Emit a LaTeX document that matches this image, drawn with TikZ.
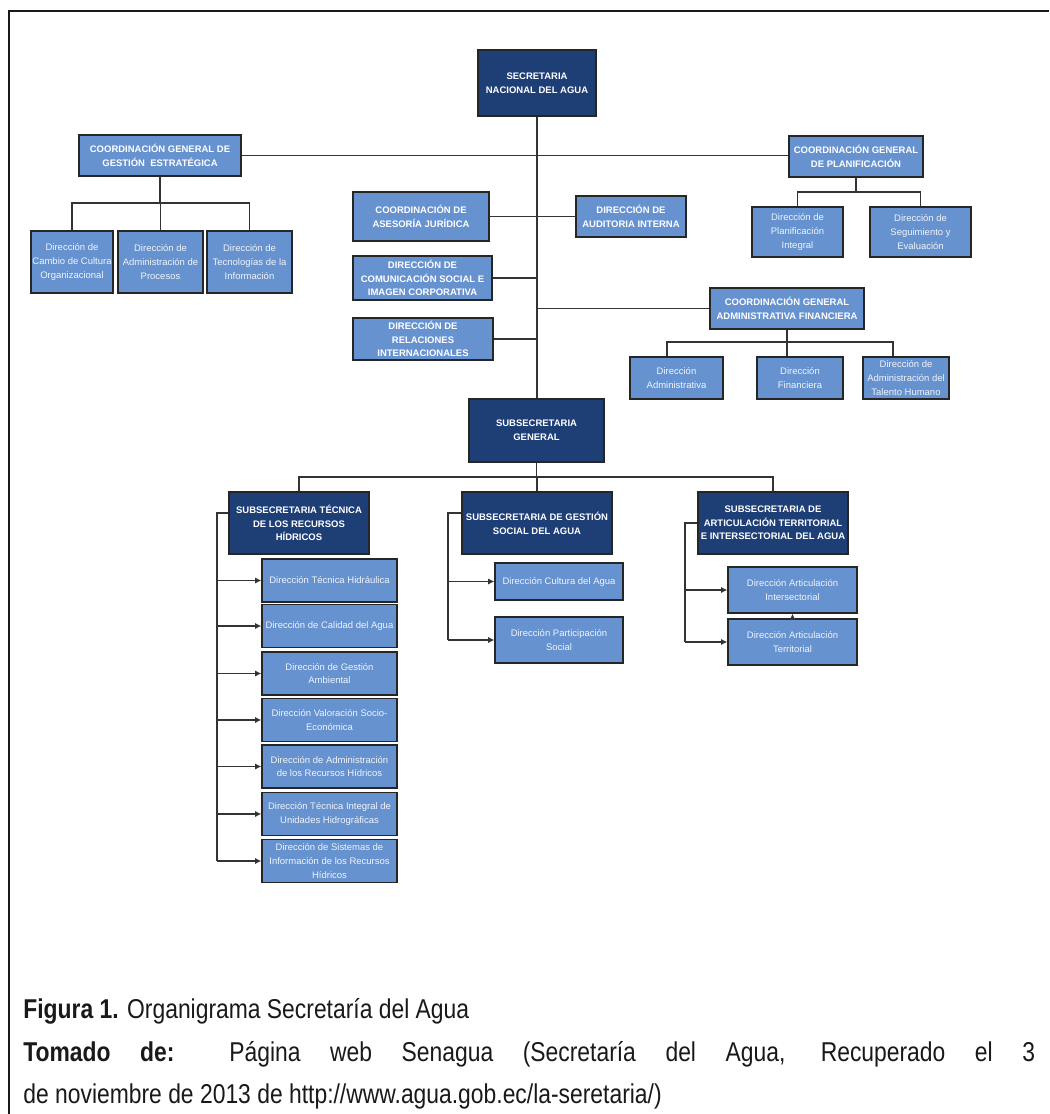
\documentclass[tikz,border=0pt]{standalone}
\usepackage{fontspec}
\setmainfont{Liberation Sans}
\newfontfamily\captfont[FakeStretch=0.84]{Liberation Sans}
\usepackage{tikz}
\usetikzlibrary{arrows.meta}
\definecolor{navy}{RGB}{30,62,118}
\definecolor{steel}{RGB}{102,146,207}

\begin{document}
\begin{tikzpicture}[x=0.02cm,y=-0.02cm,
  dark/.style={draw=black!85, line width=0.75pt, fill=navy, text=white, inner sep=0pt, align=center, font=\fontsize{5.4}{7.8}\selectfont\bfseries},
  lite/.style={dark, fill=steel},
  dir/.style={lite, font=\fontsize{5.4}{7.8}\selectfont, text=white!90!steel},
  wire/.style={line width=0.8pt, black!80},
  arr/.style={wire, -{Latex[length=3.5pt,width=3.5pt]}},
  capt/.style={anchor=base west, inner sep=0pt, text=black!90, font=\captfont\fontsize{15.5}{18}\selectfont}]
\useasboundingbox (0,0) rectangle (1049,1114);
\draw[line width=1.1pt, black!90] (1049,11) -- (9,11) -- (9,1114);

\node[dark, minimum width=2.36cm, minimum height=1.32cm] (sec) at (537,83) {SECRETARIA\\NACIONAL DEL AGUA};

\node[lite, minimum width=3.24cm, minimum height=0.82cm] (cgge) at (160,155.5) {COORDINACIÓN GENERAL DE\\GESTIÓN~ ESTRATÉGICA};
\node[dir, minimum width=1.64cm, minimum height=1.24cm] (dcco) at (72,262) {Dirección de\\Cambio de Cultura\\Organizacional};
\node[dir, minimum width=1.70cm, minimum height=1.24cm] (dap) at (160.5,262) {Dirección de\\Administración de\\Procesos};
\node[dir, minimum width=1.70cm, minimum height=1.24cm] (dti) at (249.5,262) {Dirección de\\Tecnologías de la\\Información};

\node[lite, minimum width=2.72cm, minimum height=0.98cm] (caj) at (421,216.5) {COORDINACIÓN DE\\ASESORÍA JURÍDICA};
\node[lite, minimum width=2.20cm, minimum height=0.82cm] (dai) at (631,216.5) {DIRECCIÓN DE\\AUDITORIA INTERNA};
\node[lite, minimum width=2.78cm, minimum height=0.88cm] (dcs) at (422.5,278) {DIRECCIÓN DE\\COMUNICACIÓN SOCIAL E\\IMAGEN CORPORATIVA};
\node[lite, minimum width=2.80cm, minimum height=0.84cm] (dri) at (423,339) {DIRECCIÓN DE\\RELACIONES\\INTERNACIONALES};

\node[lite, minimum width=2.68cm, minimum height=0.82cm] (cgp) at (856,156.5) {COORDINACIÓN GENERAL\\DE PLANIFICACIÓN};
\node[dir, minimum width=1.82cm, minimum height=1.00cm] (dpi) at (797.5,232) {Dirección de\\Planificación\\Integral};
\node[dir, minimum width=2.02cm, minimum height=1.00cm] (dse) at (920.5,232) {Dirección de\\Seguimiento y\\Evaluación};

\node[lite, minimum width=3.08cm, minimum height=0.82cm] (cgaf) at (787,308.5) {COORDINACIÓN GENERAL\\ADMINISTRATIVA FINANCIERA};
\node[dir, minimum width=1.86cm, minimum height=0.84cm] (dad) at (676.5,378) {Dirección\\Administrativa};
\node[dir, minimum width=1.72cm, minimum height=0.84cm] (dfi) at (800,378) {Dirección\\Financiera};
\node[dir, minimum width=1.72cm, minimum height=0.84cm] (dth) at (906,378) {Dirección de\\Administración del\\Talento Humano};

\node[dark, minimum width=2.70cm, minimum height=1.26cm] (sg) at (536.5,430.5) {SUBSECRETARIA\\GENERAL};
\node[dark, minimum width=2.80cm, minimum height=1.24cm] (stec) at (299,523) {SUBSECRETARIA TÉCNICA\\DE LOS RECURSOS\\HÍDRICOS};
\node[dark, minimum width=3.00cm, minimum height=1.24cm] (sgs) at (537,523) {SUBSECRETARIA DE GESTIÓN\\SOCIAL DEL AGUA};
\node[dark, minimum width=3.00cm, minimum height=1.24cm] (sat) at (773,523) {SUBSECRETARIA DE\\ARTICULACIÓN TERRITORIAL\\E INTERSECTORIAL DEL AGUA};

\node[dir, minimum width=2.70cm, minimum height=0.86cm] (dt1) at (329.5,580.5) {Dirección Técnica Hidráulica};
\node[dir, minimum width=2.70cm, minimum height=0.86cm] (dt2) at (329.5,626) {Dirección de Calidad del Agua};
\node[dir, minimum width=2.70cm, minimum height=0.86cm] (dt3) at (329.5,673.5) {Dirección de Gestión\\Ambiental};
\node[dir, minimum width=2.70cm, minimum height=0.86cm] (dt4) at (329.5,720) {Dirección Valoración Socio-\\Económica};
\node[dir, minimum width=2.70cm, minimum height=0.86cm] (dt5) at (329.5,766.5) {Dirección de Administración\\de los Recursos Hídricos};
\node[dir, minimum width=2.70cm, minimum height=0.86cm] (dt6) at (329.5,814) {Dirección Técnica Integral de\\Unidades Hidrográficas};
\node[dir, minimum width=2.70cm, minimum height=0.86cm] (dt7) at (329.5,861) {Dirección de Sistemas de\\Información de los Recursos\\Hídricos};

\node[dir, minimum width=2.56cm, minimum height=0.74cm] (dca) at (559,581.5) {Dirección Cultura del Agua};
\node[dir, minimum width=2.56cm, minimum height=0.92cm] (dps) at (559,640) {Dirección Participación\\Social};

\node[dir, minimum width=2.58cm, minimum height=0.92cm] (dain) at (792.5,590) {Dirección Articulación\\Intersectorial};
\node[dir, minimum width=2.58cm, minimum height=0.92cm] (dat) at (792.5,642) {Dirección Articulación\\Territorial};

% tronco
\draw[wire] (sec.south) -- (sec.south |- sg.north);
\draw[wire] (cgge.east) -- (cgge.east -| cgp.west);
\draw[wire] (caj.east) -- (dai.west);
\draw[wire] (dcs.east) -- (dcs.east -| sec.south);
\draw[wire] (dri.east) -- (dri.east -| sec.south);
\draw[wire] (cgaf.west) -- (cgaf.west -| sec.south);

\coordinate (ggbar) at (160,203);
\draw[wire] (cgge.south) -- (cgge.south |- ggbar);
\draw[wire] (dcco.north) -- (dcco.north |- ggbar) -- (dti.north |- ggbar) -- (dti.north);
\draw[wire] (dap.north) -- (dap.north |- ggbar);

\coordinate (pbar) at (857,192);
\draw[wire] (cgp.south) -- (cgp.south |- pbar);
\draw[wire] (dpi.north) -- (dpi.north |- pbar) -- (dse.north |- pbar) -- (dse.north);

\coordinate (afbar) at (787,342);
\draw[wire] (cgaf.south) -- (cgaf.south |- dfi.north);
\draw[wire] ([xshift=-0.19cm]dad.north) -- ([xshift=-0.19cm]dad.north |- afbar) -- ([xshift=-0.26cm]dth.north |- afbar) -- ([xshift=-0.26cm]dth.north);

\coordinate (sgbar) at (537,477);
\draw[wire] (sg.south) -- (sg.south |- sgbar);
\draw[wire] (stec.north) -- (stec.north |- sgbar) -- (sat.north |- sgbar) -- (sat.north);
\draw[wire] (sgs.north) -- (sgs.north |- sgbar);

\coordinate (tecrail) at (217,513);
\draw[wire] (stec.west |- tecrail) -- (tecrail) -- (tecrail |- dt7);
\foreach \n in {dt1,dt2,dt3,dt4,dt5,dt6,dt7}
  \draw[arr] (tecrail |- \n) -- (\n.west);

\coordinate (gsrail) at (448,513);
\draw[wire] (sgs.west |- gsrail) -- (gsrail) -- (gsrail |- dps);
\foreach \n in {dca,dps}
  \draw[arr] (gsrail |- \n) -- (\n.west);

\coordinate (atrail) at (685,523);
\draw[wire] (sat.west) -- (atrail) -- (atrail |- dat);
\foreach \n in {dain,dat}
  \draw[arr] (atrail |- \n) -- (\n.west);
\draw[arr] (dat.north) -- (dain.south);

\node[capt] (fig) at (23,1018) {\textbf{Figura 1.} Organigrama Secretaría del Agua};
\node[capt] (src) at (23,1061) {\makebox[20.24cm][s]{\textbf{Tomado de:} Página web Senagua (Secretaría del Agua, Recuperado el 3}};
\node[capt] (srcb) at (23,1103) {de noviembre de 2013 de http://www.agua.gob.ec/la-seretaria/)};
\end{tikzpicture}
\end{document}
